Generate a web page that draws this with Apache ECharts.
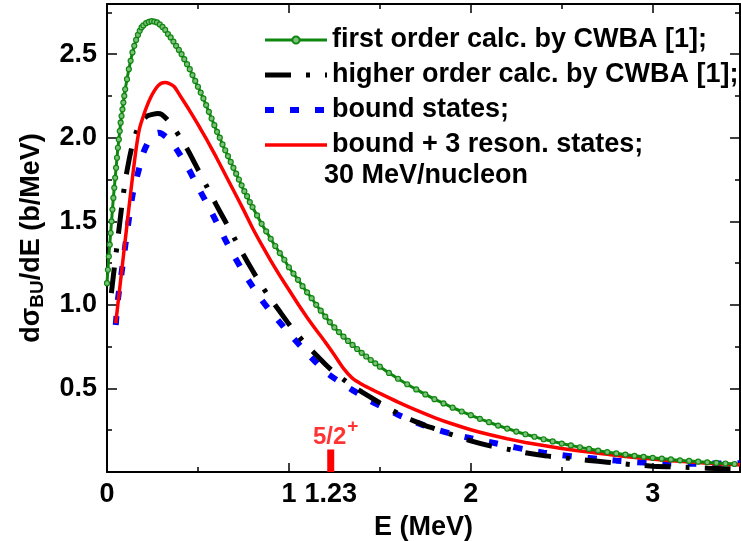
<!DOCTYPE html>
<html><head><meta charset="utf-8">
<script src="https://cdn.jsdelivr.net/npm/echarts@6/dist/echarts.min.js"></script>
<style>html,body{margin:0;padding:0;background:#fff}#c{width:741px;height:541px}</style>
</head><body><div id="c"></div>
<script>
const FONT = '"Liberation Sans", Arial, Helvetica, sans-serif';
const seriesNames = ['first order calc. by CWBA [1];', 'higher order calc. by CWBA [1];', 'bound states;', 'bound + 3 reson. states;'];
const noteText = '30 MeV/nucleon';

const firstE = [0.000,0.005,0.010,0.015,0.020,0.025,0.030,0.035,0.040,0.045,0.050,0.055,0.060,0.065,0.070,0.075,0.080,0.085,0.090,0.095,0.100,0.110,0.120,0.130,0.140,0.150,0.160,0.170,0.180,0.190,0.200,0.215,0.230,0.245,0.260,0.275,0.290,0.305,0.320,0.335,0.350,0.365,0.380,0.395,0.410,0.425,0.440,0.455,0.470,0.485,0.500,0.515,0.530,0.545,0.560,0.575,0.590,0.605,0.620,0.635,0.650,0.665,0.680,0.695,0.710,0.725,0.740,0.755,0.770,0.785,0.800,0.825,0.850,0.875,0.900,0.925,0.950,0.975,1.000,1.025,1.050,1.075,1.100,1.125,1.150,1.175,1.200,1.225,1.250,1.275,1.300,1.325,1.350,1.375,1.400,1.425,1.450,1.475,1.500,1.550,1.600,1.650,1.700,1.750,1.800,1.850,1.900,1.950,2.000,2.050,2.100,2.150,2.200,2.250,2.300,2.350,2.400,2.450,2.500,2.550,2.600,2.650,2.700,2.750,2.800,2.850,2.900,2.950,3.000,3.050,3.100,3.150,3.200,3.250,3.300,3.350,3.400,3.450];
const firstV = [1.13,1.21,1.29,1.36,1.43,1.50,1.57,1.64,1.70,1.76,1.82,1.88,1.94,1.99,2.04,2.09,2.13,2.17,2.21,2.25,2.29,2.35,2.41,2.46,2.51,2.55,2.585,2.615,2.64,2.66,2.672,2.685,2.693,2.697,2.695,2.69,2.678,2.663,2.645,2.62,2.60,2.575,2.55,2.525,2.50,2.47,2.44,2.41,2.375,2.34,2.305,2.27,2.235,2.195,2.155,2.115,2.075,2.035,2.00,1.96,1.925,1.89,1.855,1.82,1.785,1.75,1.715,1.68,1.65,1.615,1.585,1.535,1.485,1.44,1.395,1.352,1.31,1.27,1.225,1.187,1.15,1.112,1.075,1.04,1.00,0.965,0.93,0.897,0.865,0.837,0.81,0.784,0.76,0.736,0.713,0.691,0.67,0.65,0.63,0.593,0.558,0.525,0.494,0.464,0.436,0.41,0.385,0.362,0.34,0.318,0.298,0.278,0.26,0.242,0.226,0.211,0.196,0.183,0.17,0.159,0.148,0.138,0.128,0.119,0.111,0.104,0.097,0.091,0.085,0.08,0.075,0.07,0.066,0.062,0.058,0.054,0.051,0.048];

const higherE = [0.024,0.04,0.06,0.08,0.10,0.12,0.14,0.16,0.18,0.20,0.22,0.25,0.28,0.30,0.33,0.36,0.40,0.45,0.50,0.55,0.60,0.65,0.70,0.75,0.80,0.85,0.90,0.95,1.00,1.05,1.10,1.15,1.20,1.25,1.30,1.35,1.40,1.45,1.50,1.55,1.60,1.65,1.70,1.75,1.80,1.90,2.00,2.10,2.20,2.30,2.40,2.50,2.60,2.70,2.80,2.90,3.00,3.10,3.20,3.30,3.40,3.48];
const higherV = [1.07,1.22,1.40,1.58,1.74,1.86,1.96,2.03,2.08,2.11,2.13,2.14,2.145,2.14,2.11,2.07,2.005,1.915,1.81,1.705,1.60,1.50,1.40,1.30,1.205,1.115,1.035,0.96,0.885,0.818,0.755,0.70,0.645,0.595,0.553,0.513,0.48,0.447,0.413,0.38,0.35,0.323,0.30,0.278,0.26,0.222,0.186,0.158,0.137,0.115,0.098,0.087,0.075,0.064,0.053,0.043,0.035,0.031,0.027,0.023,0.02,0.018];

const boundE = [0.048,0.06,0.08,0.10,0.12,0.14,0.16,0.18,0.20,0.22,0.24,0.26,0.28,0.30,0.33,0.37,0.40,0.45,0.50,0.55,0.60,0.65,0.70,0.75,0.80,0.85,0.90,0.95,1.00,1.05,1.10,1.15,1.20,1.25,1.30,1.35,1.40,1.45,1.50,1.60,1.70,1.80,1.90,2.00,2.10,2.20,2.30,2.40,2.50,2.60,2.70,2.80,2.90,3.00,3.10,3.20,3.30,3.40,3.48];
const boundV = [0.88,1.03,1.19,1.35,1.51,1.655,1.745,1.83,1.91,1.96,2.0,2.02,2.03,2.025,2.0,1.95,1.90,1.81,1.705,1.605,1.50,1.39,1.29,1.195,1.11,1.03,0.96,0.895,0.83,0.77,0.71,0.655,0.60,0.56,0.525,0.49,0.458,0.425,0.397,0.343,0.296,0.258,0.227,0.202,0.18,0.157,0.135,0.116,0.101,0.089,0.078,0.068,0.06,0.054,0.051,0.05,0.05,0.051,0.052];

const resonE = [0.048,0.07,0.09,0.11,0.13,0.15,0.165,0.18,0.20,0.22,0.24,0.26,0.28,0.30,0.32,0.34,0.37,0.40,0.45,0.50,0.55,0.60,0.65,0.70,0.75,0.80,0.85,0.90,0.95,1.00,1.05,1.10,1.15,1.20,1.25,1.30,1.35,1.40,1.45,1.50,1.60,1.70,1.80,1.90,2.00,2.10,2.20,2.30,2.40,2.50,2.60,2.70,2.80,2.90,3.00,3.10,3.20,3.30,3.40,3.48];
const resonV = [0.89,1.10,1.29,1.48,1.67,1.85,1.97,2.06,2.13,2.19,2.24,2.28,2.31,2.327,2.33,2.325,2.305,2.255,2.17,2.08,1.985,1.885,1.78,1.675,1.57,1.46,1.36,1.265,1.175,1.09,1.005,0.925,0.85,0.777,0.70,0.62,0.56,0.525,0.497,0.47,0.418,0.37,0.326,0.287,0.253,0.224,0.199,0.177,0.158,0.141,0.126,0.112,0.099,0.087,0.077,0.068,0.06,0.053,0.047,0.043];

const stateE = [1.23, 1.23];
const stateV = [0, 0.134];
const stateLabel = ['5/2', '+'];

const xTickLabels = [0, 1, 1.23, 2, 3];
const xMajorTicks = [0, 1, 2, 3];
const xMinorTicks = [0.5, 1.5, 2.5];
const yTickLabels = [0.5, 1.0, 1.5, 2.0, 2.5];
const yMinorTicks = [0.25, 0.75, 1.25, 1.75, 2.25, 2.75];
const X_MAX = 3.48, Y_MAX = 2.8;

const pairs = (xs, ys) => xs.map((x, i) => [x, ys[i]]);

const tickLine = {color: '#000', width: 1.5};
function xAx(position, showLine, ticks, len, labels) {
  return {
    type: 'value', position, min: 0, max: X_MAX,
    axisLine: {show: showLine, onZero: false, lineStyle: {color: '#000', width: 2}},
    axisTick: {show: true, inside: true, length: len, customValues: ticks, lineStyle: tickLine},
    axisLabel: labels ? {show: true, customValues: labels, margin: 9, color: '#000',
      fontFamily: FONT, fontWeight: 'bold', fontSize: 27, formatter: v => String(v)} : {show: false},
    splitLine: {show: false}
  };
}
function yAx(position, showLine, ticks, len, labels) {
  return {
    type: 'value', position, min: 0, max: Y_MAX,
    axisLine: {show: showLine, onZero: false, lineStyle: {color: '#000', width: 2}},
    axisTick: {show: true, inside: true, length: len, customValues: ticks, lineStyle: tickLine},
    axisLabel: labels ? {show: true, customValues: labels, margin: 10, color: '#000',
      fontFamily: FONT, fontWeight: 'bold', fontSize: 27, formatter: v => v.toFixed(1)} : {show: false},
    splitLine: {show: false}
  };
}

const xAxes = [
  xAx('bottom', true, xMajorTicks, 9, xTickLabels),
  xAx('bottom', false, xMinorTicks, 5, null),
  xAx('top', true, xMajorTicks, 9, null),
  xAx('top', false, xMinorTicks, 5, null)
];
Object.assign(xAxes[0], {name: 'E (MeV)', nameLocation: 'middle', nameGap: 33,
  nameTextStyle: {fontFamily: FONT, fontWeight: 'bold', fontSize: 27, color: '#000', lineHeight: 30}});
const yAxes = [
  yAx('left', true, yTickLabels, 10, yTickLabels),
  yAx('left', false, yMinorTicks, 5, null),
  yAx('right', true, yTickLabels, 10, null),
  yAx('right', false, yMinorTicks, 5, null)
];
Object.assign(yAxes[0], {name: '{m|dσ}{s|BU}{m|/dE (b/MeV)}', nameLocation: 'middle', nameRotate: 90, nameGap: 60,
  nameTextStyle: {rich: {
    m: {fontFamily: FONT, fontWeight: 'bold', fontSize: 27, color: '#000', lineHeight: 30, verticalAlign: 'middle'},
    s: {fontFamily: FONT, fontWeight: 'bold', fontSize: 19, color: '#000', lineHeight: 14, verticalAlign: 'bottom'}
  }}});

const GREEN = '#0f870f', BLUE = '#0000ff', RED = '#ff0000';

const option = {
  animation: false,
  backgroundColor: '#fff',
  grid: {left: 107, top: 4, width: 633, height: 468, containLabel: false, outerBoundsMode: 'none'},
  xAxis: xAxes,
  yAxis: yAxes,
  legend: {
    orient: 'vertical', left: 257, top: 20, itemWidth: 62, itemHeight: 9, itemGap: 5,
    selectedMode: false,
    textStyle: {fontFamily: FONT, fontWeight: 'bold', fontSize: 27, color: '#000', lineHeight: 30},
    data: [
      {name: seriesNames[0], lineStyle: {width: 3}},
      {name: seriesNames[1], lineStyle: {width: 5}, itemStyle: {opacity: 0}},
      {name: seriesNames[2], lineStyle: {width: 6}, itemStyle: {opacity: 0}},
      {name: seriesNames[3], lineStyle: {width: 3.5}, itemStyle: {opacity: 0}}
    ]
  },
  graphic: [{type: 'text', left: 324, top: 162, style: {text: noteText, fill: '#000',
    font: 'bold 27px ' + FONT}}],
  series: [
    {name: seriesNames[2], type: 'line', data: pairs(boundE, boundV), symbol: 'none', smooth: 0.2, z: 2,
      lineStyle: {color: BLUE, width: 6, type: [9, 16], cap: 'butt'}, itemStyle: {color: BLUE}},
    {name: seriesNames[1], type: 'line', data: pairs(higherE, higherV), symbol: 'none', smooth: 0.2, z: 3,
      lineStyle: {color: '#000', width: 5, type: [26, 15, 4, 15], cap: 'butt'}, itemStyle: {color: '#000'}},
    {name: seriesNames[3], type: 'line', data: pairs(resonE, resonV), symbol: 'none', smooth: 0.2, z: 4,
      lineStyle: {color: RED, width: 3.5}, itemStyle: {color: RED}},
    {name: seriesNames[0], type: 'line', data: pairs(firstE, firstV), symbol: 'circle', symbolSize: 5,
      showSymbol: true, smooth: 0.2, z: 5,
      lineStyle: {color: GREEN, width: 3}, itemStyle: {color: '#7cc07c', borderColor: GREEN, borderWidth: 1.2}},
    {name: 'state', type: 'line', data: pairs(stateE, stateV), symbol: 'none', z: 6, silent: true,
      lineStyle: {color: RED, width: 7, cap: 'butt'}},
    {name: 'stateLabel', type: 'scatter', data: [[stateE[1], stateV[1]]], symbolSize: 0.1, z: 6, silent: true,
      itemStyle: {color: 'rgba(0,0,0,0)'},
      label: {show: true, position: 'top', distance: 0, offset: [5, 0],
        formatter: '{a|' + stateLabel[0] + '}{b|' + stateLabel[1] + '}',
        rich: {
          a: {fontFamily: FONT, fontWeight: 'bold', fontSize: 24, color: RED, lineHeight: 24},
          b: {fontFamily: FONT, fontWeight: 'bold', fontSize: 19, color: RED, lineHeight: 16, padding: [0, 0, 22, 1]}
        }}}
  ]
};
const chart = echarts.init(document.getElementById('c'), null, {renderer: 'canvas'});
chart.setOption(option);
</script></body></html>
